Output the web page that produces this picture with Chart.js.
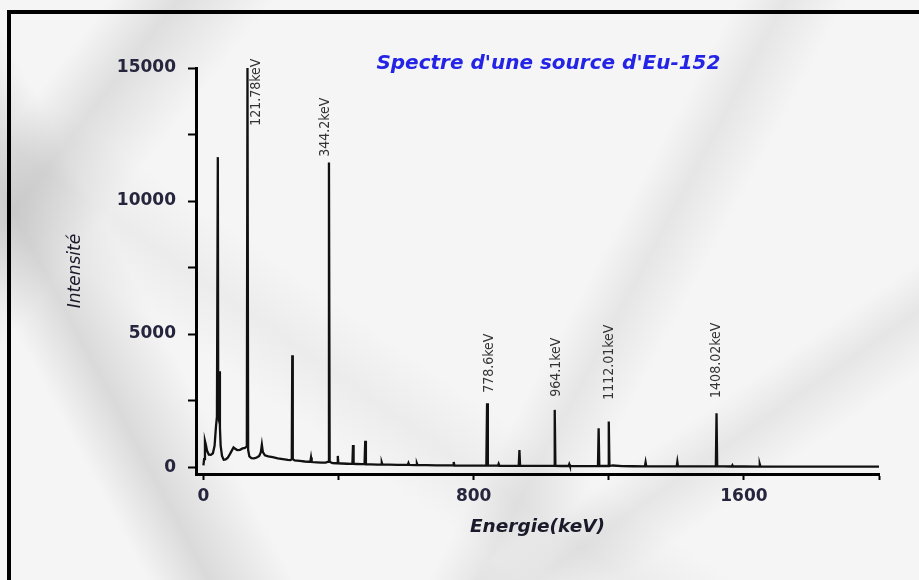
<!DOCTYPE html>
<html>
<head>
<meta charset="utf-8">
<script src="https://cdn.jsdelivr.net/npm/chart.js@4/dist/chart.umd.min.js"></script>
<style>
  html, body { margin: 0; padding: 0; }
  body {
    width: 919px; height: 580px; overflow: hidden; position: relative;
    background:
      linear-gradient(128deg, transparent 8%, rgba(150,150,150,0.24) 13%, transparent 20%),
      linear-gradient(118deg, transparent 60%, rgba(160,160,160,0.18) 64%, transparent 69%),
      linear-gradient(62deg, transparent 12%, rgba(140,140,140,0.26) 17%, transparent 24%),
      linear-gradient(145deg, transparent 74%, rgba(160,160,160,0.18) 78%, transparent 83%),
      linear-gradient(35deg, transparent 30%, rgba(170,170,170,0.12) 36%, transparent 42%),
      #f5f5f5;
  }
  #frame {
    position: absolute; left: 7px; top: 10px; width: 940px; height: 600px;
    border-top: 4px solid #000; border-left: 4px solid #000;
  }
  #wrap { position: absolute; left: 0; top: 0; width: 919px; height: 580px; }
</style>
</head>
<body>
<div id="frame"></div>
<div id="wrap"><canvas id="spec"></canvas></div>
<script>
  // spectrum (energy in keV as plotted, counts)
  var energy = [
    0, 2, 4.5, 7, 11, 16, 22, 28, 33, 37, 40, 42.6, 43.8, 45.5, 47.4, 48.8, 51, 55, 60, 66,
    72, 78, 84, 89, 94, 100, 108, 116, 123, 128.5, 130.4, 132.3, 136, 142, 150, 158, 165, 170, 173, 176,
    182, 192, 205, 220, 235, 250, 258, 261.5, 263, 264.5, 270, 285, 300, 312, 316.5, 318.5, 320.5, 335, 350, 362,
    369.5, 371.6, 373.7, 382, 393, 396, 397.8, 399.5, 410, 425, 437, 441, 442.8, 444.6, 455, 468, 477, 479, 481, 495,
    515, 526, 528, 530, 550, 575, 600, 605, 607, 609, 630, 632, 634, 660, 690, 720, 739, 741, 743, 770,
    800, 820, 837.5, 839.7, 842, 860, 872, 874, 876, 900, 920, 933.5, 935.5, 937.5, 960, 990, 1010, 1038, 1040, 1042,
    1060, 1081, 1083, 1085, 1110, 1140, 1160, 1168, 1170, 1172, 1185, 1198, 1200, 1202, 1212, 1240, 1270, 1307, 1309, 1311,
    1330, 1360, 1390, 1401, 1403, 1405, 1440, 1480, 1505, 1517, 1519, 1521, 1540, 1564, 1566, 1568, 1600, 1645, 1647, 1649,
    1700, 1800, 1900, 2000
  ];
  var counts = [
    60, 300, 980, 850, 600, 470, 460, 520, 800, 1500, 1900, 11650, 1900, 1800, 3600, 1500, 800, 420, 280, 290,
    350, 480, 620, 740, 690, 640, 650, 700, 720, 780, 15000, 650, 400, 340, 330, 360, 420, 560, 840, 560,
    440, 400, 370, 330, 300, 270, 260, 300, 4200, 300, 250, 230, 210, 200, 200, 360, 190, 180, 170, 165,
    200, 11450, 200, 150, 145, 150, 420, 140, 135, 125, 120, 125, 830, 120, 115, 110, 110, 990, 105, 100,
    95, 95, 170, 90, 90, 85, 80, 80, 150, 80, 75, 140, 75, 70, 65, 62, 62, 190, 60, 58,
    55, 55, 55, 2400, 55, 52, 52, 120, 50, 48, 47, 47, 640, 47, 45, 43, 42, 42, 2150, 42,
    40, 40, 110, 38, 37, 36, 36, 40, 1460, 40, 45, 40, 1710, 40, 60, 34, 32, 30, 180, 30,
    30, 28, 28, 28, 200, 27, 26, 25, 24, 24, 2025, 24, 23, 22, 70, 22, 21, 20, 110, 20,
    18, 16, 15, 14
  ];

  var xTickValues = [0, 400, 800, 1200, 1600, 2000];
  var xTickLabels = [0, 800, 1600];
  var yTickValues = [0, 2500, 5000, 7500, 10000, 12500, 15000];
  var yTickLabels = [0, 5000, 10000, 15000];

  var peakLabels = ['121.78keV', '344.2keV', '778.6keV', '964.1keV', '1112.01keV', '1408.02keV'];
  var peakLabelE = [157, 361, 846, 1045, 1202, 1519];
  var peakLabelI = [12830, 11660, 2790, 2640, 2530, 2600];

  var titleText = "Spectre d'une source d'Eu-152";

  var points = [];
  for (var i = 0; i < energy.length; i++) {
    points.push({x: energy[i], y: counts[i]});
  }

  // rotated peak labels + blue title
  var textPlugin = {
    id: 'peakText',
    afterDatasetsDraw: function(chart) {
      var ctx = chart.ctx;
      var xs = chart.scales.x, ys = chart.scales.y;
      var area = chart.chartArea;
      ctx.save();
      ctx.fillStyle = '#333';
      ctx.font = "14px 'Liberation Sans Narrow', 'DejaVu Sans Condensed', sans-serif";
      ctx.textAlign = 'left';
      ctx.textBaseline = 'middle';
      for (var i = 0; i < peakLabels.length; i++) {
        ctx.save();
        ctx.translate(xs.getPixelForValue(peakLabelE[i]), ys.getPixelForValue(peakLabelI[i]));
        ctx.rotate(-Math.PI / 2);
        ctx.fillText(peakLabels[i], 0, 0);
        ctx.restore();
      }
      ctx.fillStyle = '#2424e6';
      ctx.font = "italic bold 20px 'DejaVu Sans', sans-serif";
      ctx.textAlign = 'center';
      ctx.fillText(titleText, area.left + 0.516 * (area.right - area.left), area.top - 4);
      ctx.restore();
    }
  };

  var ctx1 = document.getElementById('spec').getContext('2d');
  var chart1 = new Chart(ctx1, {
    type: 'scatter',
    data: {
      datasets: [{
        label: 'Eu-152',
        data: points,
        showLine: true,
        borderColor: '#111',
        borderWidth: 2.3,
        pointRadius: 0,
        tension: 0
      }]
    },
    options: {
      responsive: true,
      maintainAspectRatio: false,
      animation: false,
      layout: {
        padding: { top: 68, right: 40, left: 0, bottom: 0 }
      },
      plugins: {
        legend: { display: false },
        tooltip: { enabled: false }
      },
      scales: {
        x: {
          type: 'linear',
          min: -22,
          max: 2000,
          afterFit: function(scale) { scale.height = 106; },
          afterBuildTicks: function(scale) {
            scale.ticks = xTickValues.map(function(v) { return {value: v}; });
          },
          border: { display: true, width: 3, color: '#000' },
          grid: { drawOnChartArea: false, drawTicks: true, tickLength: 6, tickWidth: 2, tickColor: '#000' },
          ticks: {
            autoSkip: false,
            maxRotation: 0,
            padding: 6,
            color: '#25253d',
            font: { family: 'DejaVu Sans', size: 17, weight: 'bold' },
            callback: function(v) { return xTickLabels.indexOf(v) >= 0 ? String(v) : ''; }
          },
          title: {
            display: true,
            text: 'Energie(keV)',
            color: '#1a1a2a',
            font: { family: 'DejaVu Sans', size: 18.5, weight: 'bold', style: 'italic' },
            padding: { top: 0, bottom: 42 }
          }
        },
        y: {
          type: 'linear',
          min: -260,
          max: 15000,
          afterFit: function(scale) { scale.width = 196; },
          afterBuildTicks: function(scale) {
            scale.ticks = yTickValues.map(function(v) { return {value: v}; });
          },
          border: { display: true, width: 3, color: '#000' },
          grid: { drawOnChartArea: false, drawTicks: true, tickLength: 8, tickWidth: 2, tickColor: '#000' },
          ticks: {
            autoSkip: false,
            padding: 12,
            color: '#25253d',
            font: { family: 'DejaVu Sans', size: 17, weight: 'bold' },
            callback: function(v) { return yTickLabels.indexOf(v) >= 0 ? String(v) : ''; }
          },
          title: {
            display: true,
            text: 'Intensité',
            color: '#1a1a2a',
            font: { family: 'DejaVu Sans', size: 17, style: 'italic' },
            padding: { top: 65, bottom: 0 }
          }
        }
      }
    },
    plugins: [textPlugin]
  });
</script>
</body>
</html>
